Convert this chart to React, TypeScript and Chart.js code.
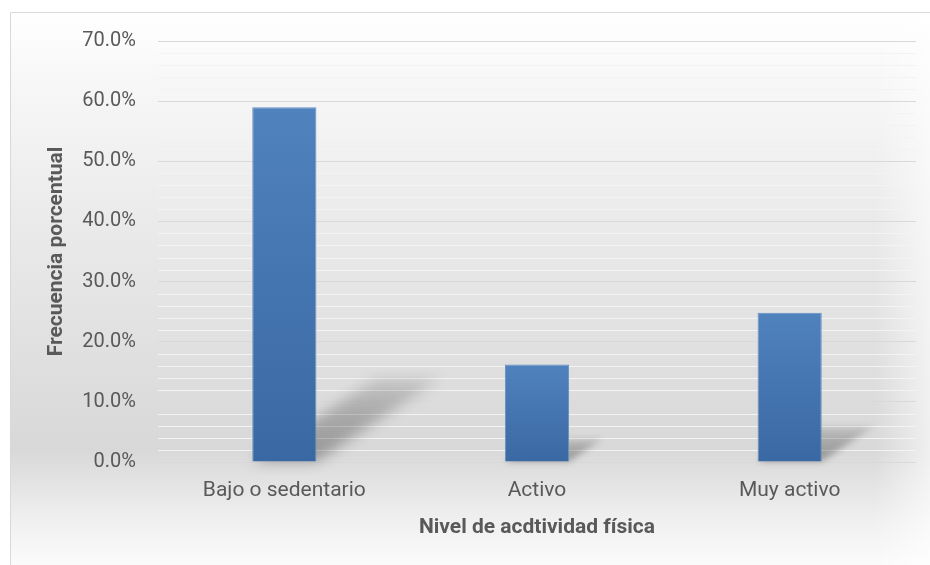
import { useEffect, useRef } from 'react';
import { Chart, registerables } from 'chart.js';

Chart.register(...registerables);

// Nivel de actividad física — frecuencia porcentual por categoría
const categories = ['Bajo o sedentario', 'Activo', 'Muy activo'];
const frecuencia = [59.0, 16.2, 24.8];

const yTitle = 'Frecuencia porcentual';
const xTitle = 'Nivel de acdtividad física';

const FONT = 'Roboto, "Noto Sans", sans-serif';
const TEXT = '#595959';

// Soft gray card background with a thin outline
const backgroundPlugin = {
  id: 'cardBackground',
  beforeDraw(chart: any) {
    const { ctx, width, height } = chart;
    ctx.save();
    ctx.fillStyle = '#ffffff';
    ctx.fillRect(0, 0, width, height);
    const x0 = 10;
    const y0 = 12;
    const g = ctx.createLinearGradient(0, y0, 0, height);
    g.addColorStop(0, '#ffffff');
    g.addColorStop(0.09, '#f9f9f9');
    g.addColorStop(0.34, '#ececec');
    g.addColorStop(0.61, '#e0e0e0');
    g.addColorStop(0.79, '#d8d8d8');
    g.addColorStop(0.84, '#e1e1e1');
    g.addColorStop(0.92, '#f0f0f0');
    g.addColorStop(1, '#fbfbfb');
    ctx.fillStyle = g;
    ctx.fillRect(x0, y0, width - x0, height - y0);
    const h = ctx.createLinearGradient(875, 0, width, 0);
    h.addColorStop(0, 'rgba(255,255,255,0)');
    h.addColorStop(1, 'rgba(255,255,255,0.6)');
    ctx.fillStyle = h;
    ctx.fillRect(875, y0, width - 875, height - y0);
    ctx.strokeStyle = '#d9d9d9';
    ctx.lineWidth = 1;
    ctx.beginPath();
    ctx.moveTo(x0 + 0.5, height);
    ctx.lineTo(x0 + 0.5, y0 + 0.5);
    ctx.lineTo(width, y0 + 0.5);
    ctx.stroke();
    ctx.restore();
  },
};

// Minor gridlines every 2 units plus a perspective shadow behind each bar
const minorGridAndShadowPlugin = {
  id: 'minorGridAndShadow',
  beforeDatasetsDraw(chart: any) {
    const { ctx, chartArea } = chart;
    const ys = chart.scales.y;
    ctx.save();
    ctx.strokeStyle = '#f3f3f3';
    ctx.lineWidth = 1;
    for (let v = ys.min + 2; v < ys.max; v += 2) {
      if (Math.abs(v % 10) < 1e-6 || Math.abs((v % 10) - 10) < 1e-6) continue;
      const py = Math.round(ys.getPixelForValue(v)) + 0.5;
      ctx.beginPath();
      ctx.moveTo(chartArea.left, py);
      ctx.lineTo(chartArea.right, py);
      ctx.stroke();
    }
    ctx.restore();

    const meta = chart.getDatasetMeta(0);
    meta.data.forEach((bar: any) => {
      const { x, y, base, width } = bar.getProps(['x', 'y', 'base', 'width'], true);
      const h = base - y;
      const left = x - width / 2;
      const right = x + width / 2;
      const dx = h * 0.35;
      const dy = h * 0.235;
      ctx.save();
      ctx.filter = `blur(${Math.max(3, h * 0.018)}px)`;
      const g = ctx.createLinearGradient(0, base, 0, base - dy);
      g.addColorStop(0, 'rgba(0,0,0,0.30)');
      g.addColorStop(0.6, 'rgba(0,0,0,0.22)');
      g.addColorStop(1, 'rgba(0,0,0,0.10)');
      ctx.fillStyle = g;
      ctx.beginPath();
      ctx.moveTo(left, base);
      ctx.lineTo(right, base);
      ctx.lineTo(right + dx, base - dy);
      ctx.lineTo(left + dx, base - dy);
      ctx.closePath();
      ctx.fill();
      ctx.restore();
    });
  },
};

function barFill(c: any) {
  const chart = c.chart;
  if (!chart.chartArea || c.type !== 'data') return '#4a7bb7';
  const ys = chart.scales.y;
  const top = ys.getPixelForValue(c.raw);
  const bottom = ys.getPixelForValue(0);
  const g = chart.ctx.createLinearGradient(0, top, 0, bottom);
  g.addColorStop(0, '#5082be');
  g.addColorStop(1, '#3a68a2');
  return g;
}

export default function App() {
  const ref = useRef<HTMLCanvasElement | null>(null);

  useEffect(() => {
    document.body.style.margin = '0';
    const canvas = ref.current;
    if (!canvas) return;
    const chart = new Chart(canvas, {
      type: 'bar',
      data: {
        labels: categories,
        datasets: [
          {
            data: frecuencia,
            backgroundColor: barFill,
            borderColor: '#6690c4',
            borderWidth: 1,
            categoryPercentage: 1,
            barPercentage: 0.254,
          },
        ],
      },
      options: {
        animation: false,
        responsive: false,
        devicePixelRatio: 1,
        layout: { padding: { top: 41, right: 14, bottom: 0, left: 0 } },
        plugins: {
          legend: { display: false },
          tooltip: { enabled: false },
        },
        scales: {
          x: {
            grid: { display: false, drawTicks: false },
            border: { display: false },
            ticks: {
              color: TEXT,
              padding: 16,
              font: { family: FONT, size: 21 },
            },
            title: {
              display: true,
              text: xTitle,
              color: TEXT,
              font: { family: FONT, size: 21, weight: 'bold' },
              padding: { top: 0, bottom: 25 },
            },
            afterFit(s: any) {
              s.height = 103;
            },
          },
          y: {
            min: 0,
            max: 70,
            grid: { color: '#d9d9d9', drawTicks: false },
            border: { display: false },
            ticks: {
              stepSize: 10,
              color: TEXT,
              padding: 22,
              font: { family: FONT, size: 20 },
              callback: (v: any) => Number(v).toFixed(1) + '%',
            },
            title: {
              display: true,
              text: yTitle,
              color: TEXT,
              font: { family: FONT, size: 21, weight: 'bold' },
              padding: { top: 44, bottom: 0 },
            },
            afterFit(s: any) {
              s.width = 158;
            },
          },
        },
      },
      plugins: [backgroundPlugin, minorGridAndShadowPlugin],
    });
    return () => chart.destroy();
  }, []);

  return (
    <div style={{ width: 930, height: 565 }}>
      <canvas ref={ref} width={930} height={565} style={{ display: 'block' }} />
    </div>
  );
}
